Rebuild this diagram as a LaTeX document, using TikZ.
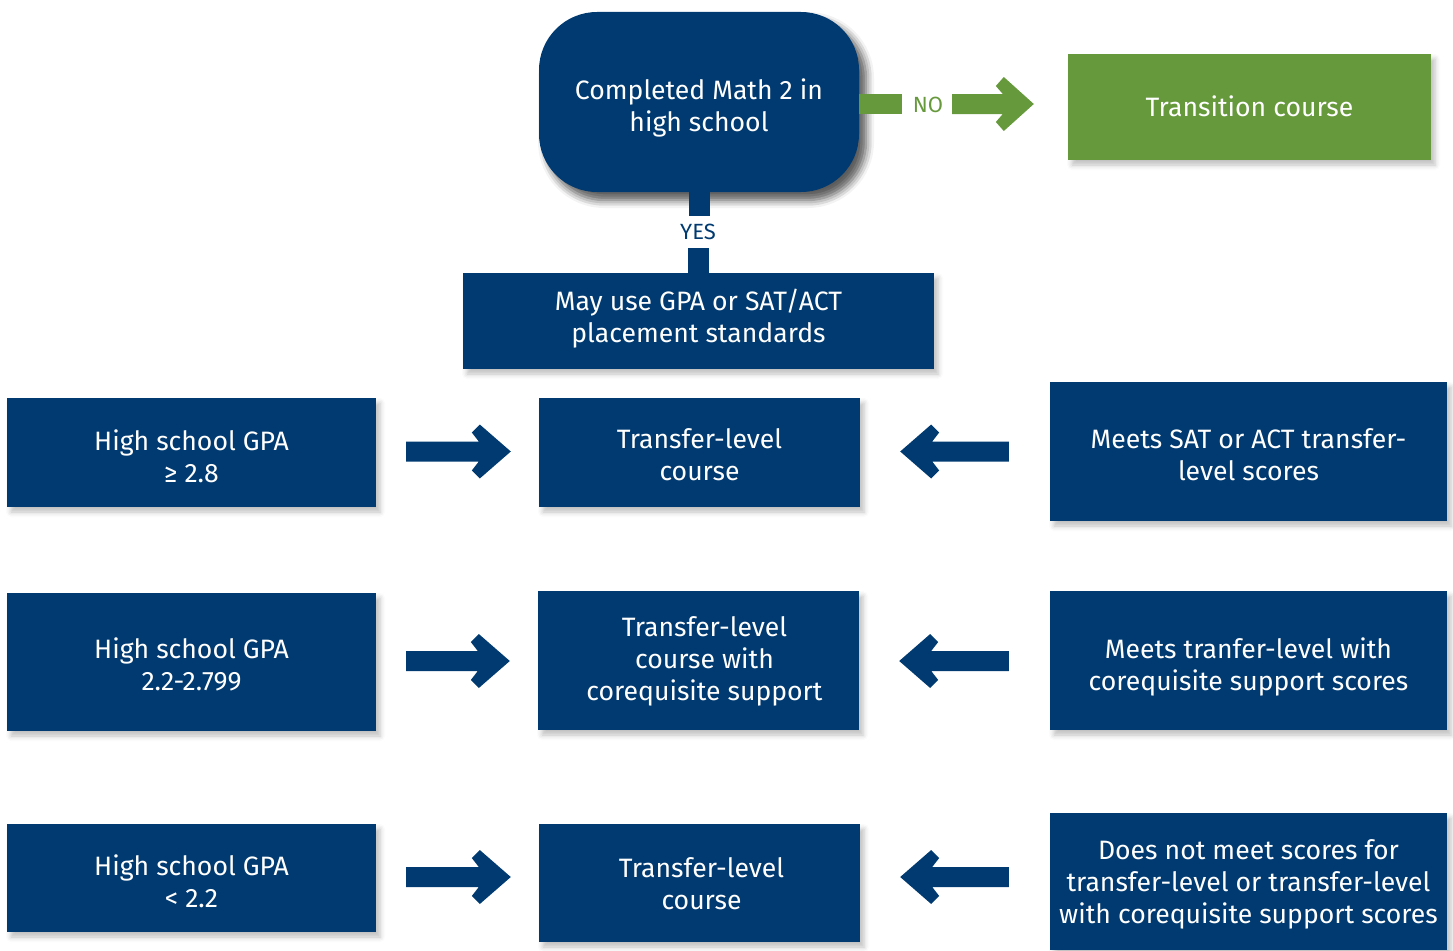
\documentclass[tikz,border=0pt]{standalone}
\usepackage{fontspec}
\setmainfont{Fira Sans}
\usetikzlibrary{calc,shadows.blur}
\definecolor{navy}{RGB}{0,58,112}
\definecolor{leaf}{RGB}{102,153,60}
\newcommand\arrR[2]{\fill[navy] ($(#1)+(0,-10)$) -- ($(#2)+(-32,-10)$) -- ($(#2)+(-39,-19)$) -- ($(#2)+(-31,-27)$) -- (#2) -- ($(#2)+(-31,27)$) -- ($(#2)+(-39,19)$) -- ($(#2)+(-32,10)$) -- ($(#1)+(0,10)$) -- cycle;}
\newcommand\arrL[2]{\fill[navy] ($(#1)+(0,-10)$) -- ($(#2)+(32,-10)$) -- ($(#2)+(39,-19)$) -- ($(#2)+(31,-27)$) -- (#2) -- ($(#2)+(31,27)$) -- ($(#2)+(39,19)$) -- ($(#2)+(32,10)$) -- ($(#1)+(0,10)$) -- cycle;}
% #1 = horizontal kern (twice the shift), #2 = downward shift, #3 = lines
\newcommand\tx[3]{\raisebox{-#2pt}[\height][\depth]{\kern#1pt\begin{tabular}{@{}c@{}}#3\end{tabular}}}
\begin{document}
\begin{tikzpicture}[x=1pt,y=-1pt,
  box/.style={fill=navy, text=white, align=center, inner sep=0pt,
    font=\fontsize{26.6}{32}\selectfont,
    blur shadow={shadow xshift=4pt, shadow yshift=-5pt, shadow blur radius=5pt, shadow opacity=25}},
  lab/.style={font=\fontsize{22}{24}\selectfont, inner sep=0pt}]
\useasboundingbox (0,0) rectangle (1453,950);
\node[box, rounded corners=58pt, minimum width=320pt, minimum height=180pt,
  blur shadow={shadow xshift=7pt, shadow yshift=-8pt, shadow blur radius=8pt, shadow opacity=40}]
  (top) at (699,102) {\tx{0}{7}{Completed Math 2 in\\high school}};
\node[box, fill=leaf, minimum width=363pt, minimum height=106pt] (trans) at (1249.5,107) {\tx{0}{3}{Transition course}};
\node[box, minimum width=471pt, minimum height=96pt] (may) at (698.5,321) {\tx{0}{-1}{May use GPA or SAT/ACT\\placement standards}};
\node[box, minimum width=369pt, minimum height=109pt] (l1) at (191.5,452.5) {\tx{0}{8}{High school GPA\\≥ 2.8}};
\node[box, minimum width=321pt, minimum height=109pt] (m1) at (699.5,452.5) {\tx{0}{6}{Transfer-level\\course}};
\node[box, minimum width=397pt, minimum height=139pt] (r1) at (1248.5,451.5) {\tx{0}{7}{Meets SAT or ACT transfer-\\level scores}};
\node[box, minimum width=369pt, minimum height=138pt] (l2) at (191.5,662) {\tx{0}{6}{High school GPA\\2.2-2.799}};
\node[box, minimum width=321pt, minimum height=139pt] (m2) at (698.5,660.5) {\tx{12}{2}{Transfer-level\\course with\\corequisite support}};
\node[box, minimum width=397pt, minimum height=139pt] (r2) at (1248.5,660.5) {\tx{0}{8}{Meets tranfer-level with\\corequisite support scores}};
\node[box, minimum width=369pt, minimum height=108pt] (l3) at (191.5,878) {\tx{0}{7}{High school GPA\\< 2.2}};
\node[box, minimum width=321pt, minimum height=118pt] (m3) at (699.5,883) {\tx{4}{4}{Transfer-level\\course}};
\node[box, minimum width=397pt, minimum height=137pt] (r3) at (1248.5,881.5) {\tx{0}{4}{Does not meet scores for\\transfer-level or transfer-level\\with corequisite support scores}};
% YES connector
\node[lab, text=navy] (yes) at (698,232) {YES};
\draw[navy, line width=21pt] (top.south) -- ++(0,24);
\draw[navy, line width=21pt] (may.north) -- ++(0,-25);
% NO connector
\node[lab, text=leaf] (no) at (928,105) {NO};
\draw[leaf, line width=20pt] ($(top.east)+(0,2)$) -- ++(43,0);
\coordinate (ns) at ($(top.east)+(93,2)$);
\coordinate (nt) at ($(trans.west)+(-34,-3)$);
\fill[leaf] ($(ns)+(0,-10)$) -- ($(nt)+(-31,-10)$) -- ($(nt)+(-38,-18)$) -- ($(nt)+(-30,-27)$) -- (nt) -- ($(nt)+(-30,27)$) -- ($(nt)+(-38,18)$) -- ($(nt)+(-31,10)$) -- ($(ns)+(0,10)$) -- cycle;
% row arrows
\foreach \r in {1,2,3}{
  \coordinate (as\r) at ($(l\r.east)+(30,-1)$);
  \coordinate (at\r) at ($(m\r.west |- as\r)+(-28,0)$);
  \coordinate (bs\r) at ($(r\r.west |- as\r)+(-41,0)$);
  \coordinate (bt\r) at ($(m\r.east |- as\r)+(40,0)$);
  \arrR{as\r}{at\r}
  \arrL{bs\r}{bt\r}
}
\end{tikzpicture}
\end{document}
